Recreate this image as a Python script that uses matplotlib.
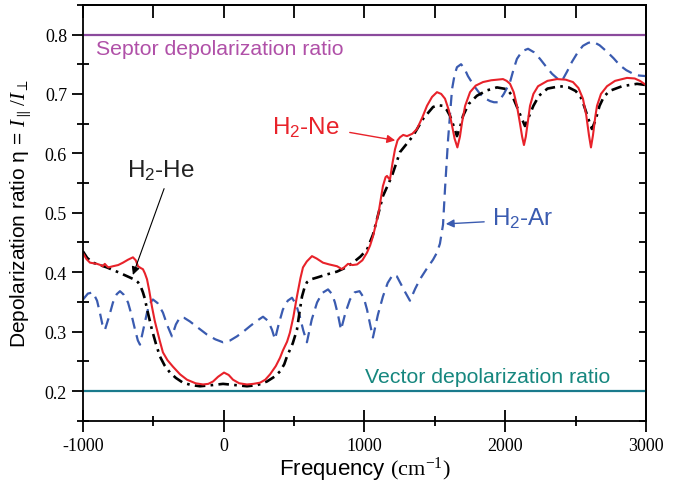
import numpy as np
import matplotlib
matplotlib.use('Agg')
import matplotlib.pyplot as plt
from matplotlib.ticker import MultipleLocator, FormatStrFormatter

plt.rcParams['font.family'] = 'Liberation Sans'
plt.rcParams['mathtext.fontset'] = 'custom'
plt.rcParams['mathtext.rm'] = 'Liberation Serif'
plt.rcParams['mathtext.it'] = 'Liberation Serif:italic'
plt.rcParams['mathtext.sf'] = 'Liberation Sans'
plt.rcParams['axes.unicode_minus'] = False

# H2-Ne (red, solid)
ne_x = [-1000, -975, -950, -900, -875, -860, -845, -830, -820, -787, -750, -716, -680, -645, -625,
        -609, -590, -574, -560, -545, -530, -510, -490, -474, -455, -432, -400, -361, -310, -261,
        -200, -147, -110, -76, -40, 2, 35, 66, 110, 165, 210, 258, 295, 329, 370, 400, 420, 450, 470,
        495, 520, 545, 563, 590, 627, 660, 705, 750, 805, 840, 860, 883, 915, 947, 985, 1018, 1040,
        1060, 1100, 1131, 1150, 1160, 1172, 1181, 1200, 1217, 1235, 1252, 1275, 1302, 1340, 1373,
        1410, 1444, 1480, 1515, 1545, 1572, 1600, 1622, 1640, 1660, 1678, 1693, 1715, 1750, 1790,
        1842, 1900, 1984, 2010, 2034, 2060, 2083, 2105, 2120, 2133, 2146, 2160, 2176, 2200, 2233,
        2300, 2368, 2430, 2481, 2520, 2552, 2575, 2595, 2609, 2623, 2640, 2652, 2680, 2723, 2780,
        2865, 2920, 2957, 3000]
ne_y = [0.432, 0.422, 0.416, 0.414, 0.412, 0.410, 0.414, 0.410, 0.408, 0.410, 0.412, 0.416, 0.421,
        0.425, 0.420, 0.410, 0.407, 0.405, 0.398, 0.388, 0.370, 0.342, 0.318, 0.303, 0.285, 0.265,
        0.252, 0.241, 0.228, 0.219, 0.213, 0.211, 0.212, 0.216, 0.224, 0.231, 0.227, 0.219, 0.213,
        0.211, 0.212, 0.214, 0.219, 0.228, 0.242, 0.256, 0.268, 0.283, 0.298, 0.325, 0.359, 0.390,
        0.408, 0.418, 0.427, 0.423, 0.416, 0.413, 0.410, 0.405, 0.409, 0.414, 0.412, 0.413, 0.420,
        0.433, 0.445, 0.460, 0.500, 0.545, 0.560, 0.562, 0.558, 0.556, 0.585, 0.607, 0.622, 0.627,
        0.631, 0.629, 0.633, 0.641, 0.660, 0.680, 0.695, 0.703, 0.700, 0.692, 0.672, 0.647, 0.625,
        0.610, 0.628, 0.652, 0.680, 0.703, 0.714, 0.720, 0.723, 0.725, 0.722, 0.717, 0.703, 0.680,
        0.650, 0.628, 0.614, 0.628, 0.652, 0.680, 0.700, 0.713, 0.722, 0.725, 0.724, 0.720, 0.710,
        0.692, 0.665, 0.630, 0.610, 0.630, 0.662, 0.680, 0.700, 0.713, 0.722, 0.727, 0.726, 0.722,
        0.715]

# H2-He (black, dash-dot)
he_x = [-1000, -970, -929, -880, -830, -750, -666, -630, -609, -590, -574, -560, -545, -510, -480,
        -453, -420, -382, -340, -290, -230, -169, -80, -5, 80, 165, 240, 307, 360, 400, 430, 449, 490,
        520, 540, 556, 575, 591, 620, 663, 730, 805, 860, 918, 970, 1018, 1060, 1131, 1195, 1252, 1344,
        1416, 1487, 1520, 1558, 1585, 1608, 1635, 1657, 1680, 1700, 1740, 1799, 1870, 1941, 2012,
        2050, 2080, 2115, 2140, 2165, 2200, 2240, 2300, 2389, 2450, 2500, 2535, 2560, 2595, 2616,
        2640, 2670, 2700, 2740, 2830, 2936, 3000]
he_y = [0.435, 0.424, 0.416, 0.412, 0.408, 0.400, 0.391, 0.387, 0.383, 0.376, 0.366, 0.355, 0.338,
        0.303, 0.278, 0.258, 0.243, 0.231, 0.222, 0.214, 0.210, 0.208, 0.210, 0.212, 0.210, 0.208,
        0.210, 0.216, 0.224, 0.233, 0.245, 0.258, 0.280, 0.303, 0.335, 0.359, 0.375, 0.383, 0.388,
        0.391, 0.396, 0.401, 0.407, 0.416, 0.426, 0.438, 0.463, 0.528, 0.562, 0.602, 0.629, 0.658,
        0.678, 0.681, 0.680, 0.673, 0.663, 0.645, 0.629, 0.645, 0.663, 0.683, 0.697, 0.706, 0.711,
        0.708, 0.697, 0.680, 0.660, 0.646, 0.660, 0.680, 0.697, 0.709, 0.713, 0.711, 0.705, 0.695,
        0.680, 0.655, 0.641, 0.655, 0.680, 0.695, 0.705, 0.713, 0.717, 0.715]

# H2-Ar (blue, dashed)
ar_x = [-1000, -965, -929, -900, -880, -862, -844, -815, -787, -760, -737, -710, -680, -655, -630,
        -610, -595, -570, -545, -525, -503, -470, -432, -400, -368, -340, -311, -280, -240, -180,
        -119, -60, -5, 45, 94, 140, 186, 235, 279, 315, 343, 364, 390, 420, 455, 485, 515, 541, 565,
        591, 625, 663, 700, 741, 770, 790, 812, 833, 865, 897, 930, 965, 995, 1018, 1040, 1060, 1095,
        1131, 1165, 1202, 1230, 1252, 1290, 1323, 1360, 1394, 1440, 1487, 1515, 1536, 1558, 1572,
        1594, 1622, 1640, 1657, 1686, 1710, 1735, 1780, 1821, 1860, 1892, 1920, 1950, 1990, 2034,
        2060, 2083, 2120, 2162, 2205, 2247, 2290, 2332, 2370, 2403, 2440, 2474, 2515, 2552, 2590,
        2623, 2670, 2723, 2770, 2815, 2860, 2908, 2950, 3000]
ar_y = [0.354, 0.364, 0.366, 0.352, 0.332, 0.312, 0.303, 0.325, 0.349, 0.363, 0.368, 0.362, 0.349,
        0.328, 0.303, 0.285, 0.278, 0.305, 0.332, 0.348, 0.354, 0.348, 0.332, 0.310, 0.292, 0.312,
        0.324, 0.323, 0.317, 0.306, 0.295, 0.287, 0.282, 0.285, 0.292, 0.300, 0.309, 0.318, 0.325,
        0.318, 0.303, 0.287, 0.312, 0.337, 0.352, 0.357, 0.345, 0.325, 0.302, 0.282, 0.320, 0.349,
        0.365, 0.371, 0.363, 0.349, 0.328, 0.303, 0.332, 0.354, 0.366, 0.368, 0.357, 0.337, 0.312,
        0.290, 0.328, 0.359, 0.382, 0.396, 0.393, 0.383, 0.366, 0.352, 0.372, 0.388, 0.405, 0.421,
        0.433, 0.448, 0.480, 0.540, 0.624, 0.708, 0.732, 0.745, 0.750, 0.743, 0.730, 0.713, 0.700,
        0.692, 0.688, 0.686, 0.686, 0.700, 0.720, 0.742, 0.759, 0.772, 0.776, 0.770, 0.759, 0.746,
        0.734, 0.726, 0.722, 0.738, 0.754, 0.770, 0.781, 0.786, 0.788, 0.782, 0.771, 0.760, 0.748,
        0.740, 0.734, 0.731, 0.730]

septor_ratio = 0.8
vector_ratio = 0.2

fig = plt.figure(figsize=(6.79, 4.85), dpi=100)
ax = fig.add_axes([0.1222, 0.1305, 0.8292, 0.8575])

ax.axhline(septor_ratio, color='#8B4A9C', lw=1.6)
ax.axhline(vector_ratio, color='#1A7A8C', lw=1.6)
ax.plot(ar_x, ar_y, color='#3A5BB0', lw=1.6, dashes=(5, 3))
ax.plot(he_x, he_y, color='black', lw=1.9, dashes=(4, 2, 1, 2))
ax.plot(ne_x, ne_y, color='#E8222A', lw=1.5)

ax.set_xlim(-1000, 3000)
ax.set_ylim(0.15, 0.85)

ax.text(-908, 0.776, 'Septor depolarization ratio', color='#B050A8', fontsize=15.3, va='center')
ax.text(1003, 0.224, 'Vector depolarization ratio', color='#16877F', fontsize=15.3, va='center')

ax.text(343, 0.645, r'H$_\mathsf{2}$-Ne', color='#E8222A', fontsize=17.5, va='center')
ax.annotate('', xy=(1238, 0.621), xytext=(876, 0.636),
            arrowprops=dict(arrowstyle='-|>', color='#E8222A', lw=1.0, mutation_scale=12))
ax.text(-687, 0.573, r'H$_\mathsf{2}$-He', color='#222222', fontsize=17.5, va='center')
ax.annotate('', xy=(-652, 0.391), xytext=(-417, 0.545),
            arrowprops=dict(arrowstyle='-|>', color='black', lw=0.8, mutation_scale=12))
ax.text(1906, 0.492, r'H$_\mathsf{2}$-Ar', color='#3A5BB0', fontsize=17.5, va='center')
ax.annotate('', xy=(1558, 0.481), xytext=(1870, 0.485),
            arrowprops=dict(arrowstyle='-|>', color='#3A5BB0', lw=1.0, mutation_scale=12))

ax.set_xlabel(r'Frequency $\mathrm{(cm^{-1})}$', fontsize=16, labelpad=0)
ax.set_ylabel(r'Depolarization ratio η = $\mathit{I}_{\parallel}\,/\mathit{I}_{\perp}$', fontsize=15, labelpad=8)

ax.xaxis.set_major_locator(MultipleLocator(1000))
ax.xaxis.set_minor_locator(MultipleLocator(500))
ax.yaxis.set_major_locator(MultipleLocator(0.1))
ax.yaxis.set_minor_locator(MultipleLocator(0.05))
ax.yaxis.set_major_formatter(FormatStrFormatter('%.1f'))
ax.tick_params(axis='x', which='major', direction='inout', length=16, width=1.3, labelsize=13, pad=4)
ax.tick_params(axis='x', which='minor', direction='inout', length=7, width=1.3)
ax.tick_params(axis='y', which='major', direction='out', length=8, width=1.3, labelsize=13)
ax.tick_params(axis='y', which='minor', direction='inout', length=8, width=1.3)
for lab in ax.get_xticklabels() + ax.get_yticklabels():
    lab.set_fontfamily('Liberation Serif')

top = ax.secondary_xaxis('top')
top.xaxis.set_major_locator(MultipleLocator(500))
top.tick_params(direction='in', length=9, width=1.3, labeltop=False)
right = ax.secondary_yaxis('right')
right.yaxis.set_major_locator(MultipleLocator(0.05))
right.tick_params(direction='in', length=5, width=1.3, labelright=False)

for s in ax.spines.values():
    s.set_linewidth(1.3)
top.spines['top'].set_linewidth(1.3)
right.spines['right'].set_linewidth(1.3)

fig.savefig('out.png', dpi=100)
